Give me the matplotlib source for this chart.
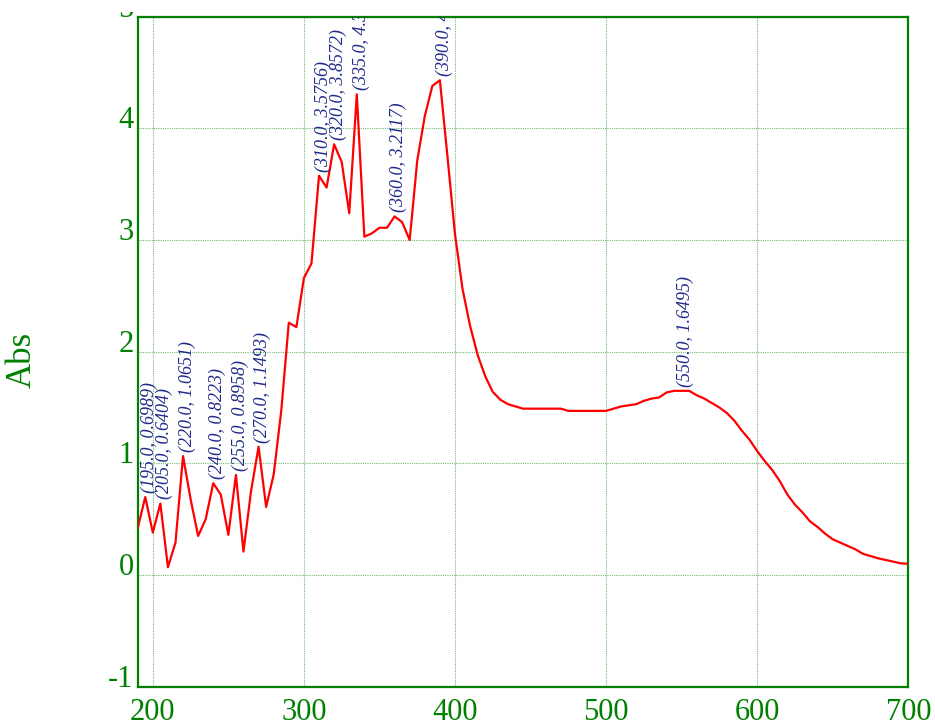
import matplotlib.pyplot as plt
import numpy as np
from matplotlib.transforms import Bbox, TransformedBbox

# Data
wavelength = [190, 195, 200, 205, 210, 215, 220, 225, 230, 235, 240, 245, 250, 255, 260,
              265, 270, 275, 280, 285, 290, 295, 300, 305, 310, 315, 320, 325, 330, 335,
              340, 345, 350, 355, 360, 365, 370, 375, 380, 385, 390, 395, 400, 405, 410,
              415, 420, 425, 430, 435, 440, 445, 450, 455, 460, 465, 470, 475, 480, 485,
              490, 495, 500, 505, 510, 515, 520, 525, 530, 535, 540, 545, 550, 555, 560,
              565, 570, 575, 580, 585, 590, 595, 600, 605, 610, 615, 620, 625, 630, 635,
              640, 645, 650, 655, 660, 665, 670, 675, 680, 685, 690, 695, 700]
absorb = [0.42, 0.6989, 0.38, 0.6404, 0.07, 0.29, 1.0651, 0.68, 0.35, 0.50, 0.8223, 0.72, 0.36, 0.8958, 0.21,
          0.75, 1.1493, 0.61, 0.90, 1.47, 2.26, 2.22, 2.66, 2.79, 3.5756, 3.47, 3.8572, 3.70, 3.24, 4.3046,
          3.03, 3.06, 3.11, 3.11, 3.2117, 3.16, 3.00, 3.71, 4.11, 4.38, 4.4312, 3.75, 3.05, 2.56, 2.23,
          1.97, 1.78, 1.64, 1.57, 1.53, 1.51, 1.49, 1.49, 1.49, 1.49, 1.49, 1.49, 1.47, 1.47, 1.47,
          1.47, 1.47, 1.47, 1.49, 1.51, 1.52, 1.53, 1.56, 1.58, 1.59, 1.635, 1.6495, 1.6495, 1.6495, 1.61,
          1.58, 1.54, 1.50, 1.45, 1.38, 1.29, 1.21, 1.11, 1.02, 0.94, 0.84, 0.72, 0.63, 0.56, 0.48,
          0.43, 0.37, 0.32, 0.29, 0.26, 0.23, 0.19, 0.17, 0.15, 0.135, 0.12, 0.105, 0.10]
peaks = [195, 205, 220, 240, 255, 270, 310, 320, 335, 360, 390, 550]
xticks = [200, 300, 400, 500, 600, 700]
yticks = [-1, 0, 1, 2, 3, 4, 5]

green = '#008000'
serif = ['Liberation Serif', 'DejaVu Serif']

# Draw Plot
fig = plt.figure(figsize=(9.35, 7.26), dpi=100)
ax = fig.add_axes([137.7/935, 1-686.7/726, (908.3-137.7)/935, (686.7-16.7)/726])
ax.plot(wavelength, absorb, color='red', lw=1.6, zorder=3)

# Peak labels
lookup = dict(zip(wavelength, absorb))
for p in peaks:
    ax.annotate('(%.1f, %.4f)' % (p, lookup[p]), xy=(p, lookup[p]), xytext=(3, 3),
                textcoords='offset points', rotation=90, ha='center', va='bottom',
                fontsize=13, style='italic', family=serif, color='#1f2a8a',
                annotation_clip=False, clip_on=True, zorder=4)

# Decorations
ax.set_xlim(190, 700)
ax.set_ylim(-1, 5)
ax.set_xticks(xticks)
ax.set_yticks(yticks)
ax.set_xticklabels([str(t) for t in xticks], family=serif, fontsize=22, color=green)
ax.set_yticklabels([str(t) for t in yticks], family=serif, fontsize=22, color=green, va='baseline')
ax.tick_params(axis='both', length=0)
ax.tick_params(axis='x', pad=8)
ax.tick_params(axis='y', pad=3)
ax.grid(True, color='#3c9c3c', linestyle=(0, (1, 1)), linewidth=0.8, alpha=0.7)
for s in ax.spines.values():
    s.set_color(green)
    s.set_linewidth(1.6)

# top label is cut off in the original
top_label = ax.yaxis.get_major_ticks()[-1].label1
top_label.set_clip_box(TransformedBbox(Bbox([[0, 0], [1, 1-12/726]]), fig.transFigure))
top_label.set_clip_on(True)

fig.text(22/935, 1-360/726, 'Abs', rotation=90, ha='center', va='center',
         fontsize=25, family=serif, color=green)

fig.savefig('out.png', dpi=100)
